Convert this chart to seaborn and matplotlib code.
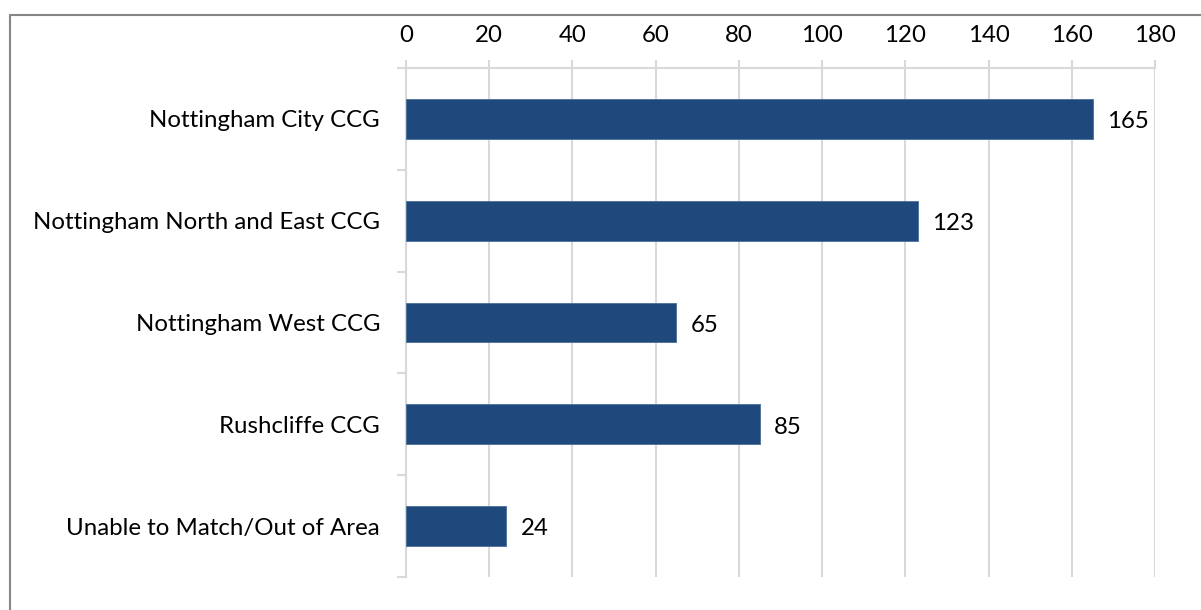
import matplotlib
matplotlib.use("Agg")
import matplotlib.pyplot as plt
from matplotlib.lines import Line2D
import seaborn as sns
import pandas as pd

categories = ["Nottingham City CCG", "Nottingham North and East CCG", "Nottingham West CCG",
              "Rushcliffe CCG", "Unable to Match/Out of Area"]
values = [165, 123, 65, 85, 24]
x_ticks = [0, 20, 40, 60, 80, 100, 120, 140, 160, 180]

sns.set_style("white")
plt.rcParams['font.family'] = ['Lato', 'DejaVu Sans']

df = pd.DataFrame({"cat": categories, "val": values})

W, H = 1201, 610
FS = 17.3
fig = plt.figure(figsize=(W / 100, H / 100), dpi=100)
ax = fig.add_axes([406 / W, 1 - 577 / H, (1155 - 406) / W, (577 - 68) / H])

sns.barplot(data=df, y="cat", x="val", orient="h", color="#1F497D", width=0.39,
            edgecolor="#4A6E9A", linewidth=0.6, saturation=1, ax=ax, zorder=3)

grid_c = "#D9D9D9"
ax.set_xlim(0, 180)
ax.set_ylim(len(categories) - 0.5, -0.5)
ax.set_xticks(x_ticks)
ax.set_xticklabels([str(t) for t in x_ticks])
ax.xaxis.tick_top()
ax.xaxis.set_label_position("top")
ax.grid(axis="x", color=grid_c, linewidth=1.5, zorder=0)
ax.set_axisbelow(True)
ax.tick_params(axis="x", which="major", top=True, bottom=False, direction="out", length=6,
               width=1.5, color=grid_c, labelsize=FS, pad=10, labelcolor="black")

ax.set_yticks([i + 0.5 for i in range(-1, len(categories))], minor=True)
ax.set_yticks(range(len(categories)))
ax.set_yticklabels(categories)
ax.tick_params(axis="y", which="major", left=False, length=0, labelsize=FS, pad=18.7,
               labelcolor="black")
ax.tick_params(axis="y", which="minor", left=True, direction="out", length=6.5, width=1.5,
               color=grid_c)
ax.set_xlabel("")
ax.set_ylabel("")

for s in ["right", "bottom"]:
    ax.spines[s].set_visible(False)
for s in ["top", "left"]:
    ax.spines[s].set_color(grid_c)
    ax.spines[s].set_linewidth(1.5)

for c in ax.containers:
    anns = ax.bar_label(c, labels=[str(v) for v in values], padding=10, fontsize=FS,
                        color="black")
    for a in anns:
        a.xyann = (10.5, -2)

frame_c = "#868686"
fig.add_artist(Line2D([10 / W, 1], [1 - 15 / H, 1 - 15 / H], transform=fig.transFigure,
                      color=frame_c, linewidth=1.5))
fig.add_artist(Line2D([10 / W, 10 / W], [1 - 15 / H, 0], transform=fig.transFigure,
                      color=frame_c, linewidth=1.5))

fig.savefig("out.png", dpi=100, facecolor="white")
